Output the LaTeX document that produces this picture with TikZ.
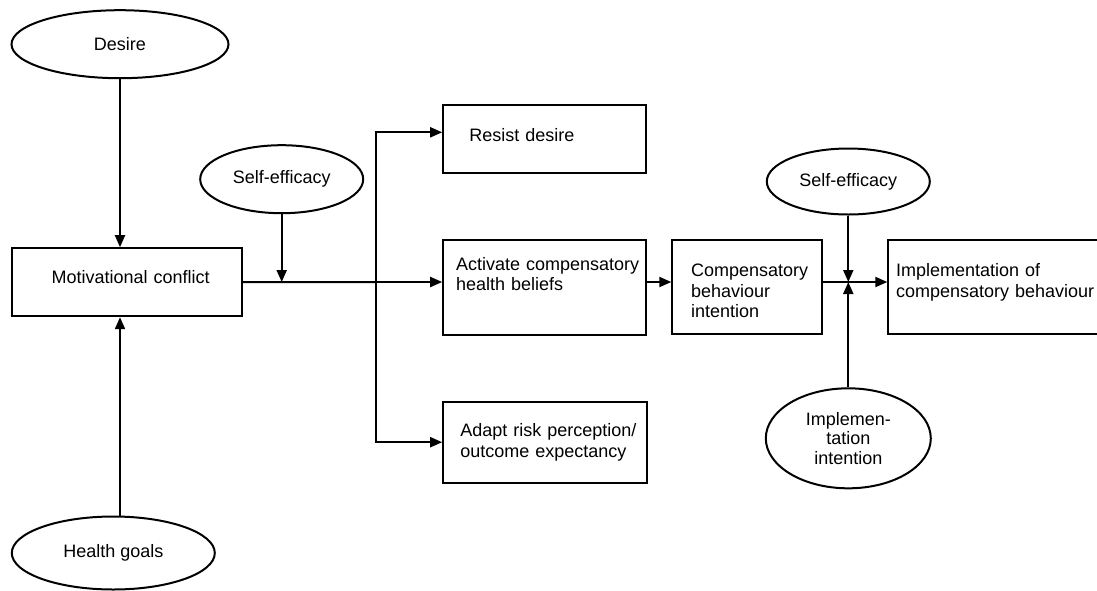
\documentclass[tikz,border=0pt]{standalone}
\usepackage{fontspec}
\setmainfont{Liberation Sans}
\usetikzlibrary{arrows.meta, shapes.geometric}

\begin{document}
\begin{tikzpicture}[x=1pt, y=-1pt,
	line width=2pt,
	box/.style={draw, rectangle, inner sep=0pt},
	oval/.style={draw, ellipse, inner sep=0pt, align=center, font=\fontsize{18}{19.5}\selectfont},
	txt/.style={anchor=base west, inner sep=0pt, text width=240pt, align=left, font=\fontsize{18}{20.5}\selectfont},
	arr/.style={-{Triangle[length=12pt, width=10pt]}}]
	\useasboundingbox (0, 0) rectangle (1097, 590);

	% boxes
	\node[box, minimum width=230, minimum height=68] (conflict) at (126.7, 282.2) {};
	\node[box, minimum width=203, minimum height=68] (resist) at (544.7, 138.8) {};
	\node[box, minimum width=203, minimum height=95] (activate) at (544.7, 287.5) {};
	\node[box, minimum width=204, minimum height=81] (adapt) at (545.2, 442.2) {};
	\node[box, minimum width=149.4, minimum height=94.3] (cbi) at (747, 287.2) {};
	\node[box, minimum width=222, minimum height=94.3] (impl) at (999.3, 287.2) {};

	% box texts
	\node[txt] (conflicttxt) at (50.7, 283) {Motivational conflict};
	\node[txt] (resisttxt) at (468.3, 141) {Resist desire};
	\node[txt] (activatetxt) at (455, 270) {Activate compensatory\\health beliefs};
	\node[txt] (adapttxt) at (459.3, 436.7) {Adapt risk perception/\\outcome expectancy};
	\node[txt] (cbitxt) at (690, 276.7) {Compensatory\\behaviour\\intention};
	\node[txt] (impltxt) at (895, 276.7) {Implementation of\\compensatory behaviour};

	% ellipses
	\node[oval, minimum width=217, minimum height=68] (desire) at (120, 44.2) {Desire};
	\node[oval, minimum width=203, minimum height=73] (goals) at (113.3, 553) {Health goals};
	\node[oval, minimum width=163, minimum height=68] (se1) at (281.7, 179.2) {Self-efficacy};
	\node[oval, minimum width=163, minimum height=66] (se2) at (848.3, 181.5) {Self-efficacy};
	\node[oval, minimum width=165, minimum height=100] (implint) at (848.3, 438.3) {Implemen-\\tation\\intention};

	% connectors
	\coordinate (split) at (376, 282);
	\coordinate (top) at (376, 132.3);
	\coordinate (join) at (848.3, 282);

	\draw[arr] (desire) -- (desire |- conflict.north);
	\draw[arr] (goals.north -| desire.south) -- (desire.south |- conflict.south);
	\draw (conflict.east) -- (split);
	\draw[arr] (se1) -- (se1 |- split);
	\draw[arr] (split) |- (top -| resist.west);
	\draw[arr] (split) |- (adapt.west);
	\draw[arr] (split) -- (split -| activate.west);
	\draw[arr] (activate.east |- split) -- (cbi.west |- split);
	\draw[arr] (cbi.east |- join) -- (impl.west |- join);
	\draw[arr] (se2) -- (join);
	\draw[arr] (implint) -- (join);
\end{tikzpicture}
\end{document}
